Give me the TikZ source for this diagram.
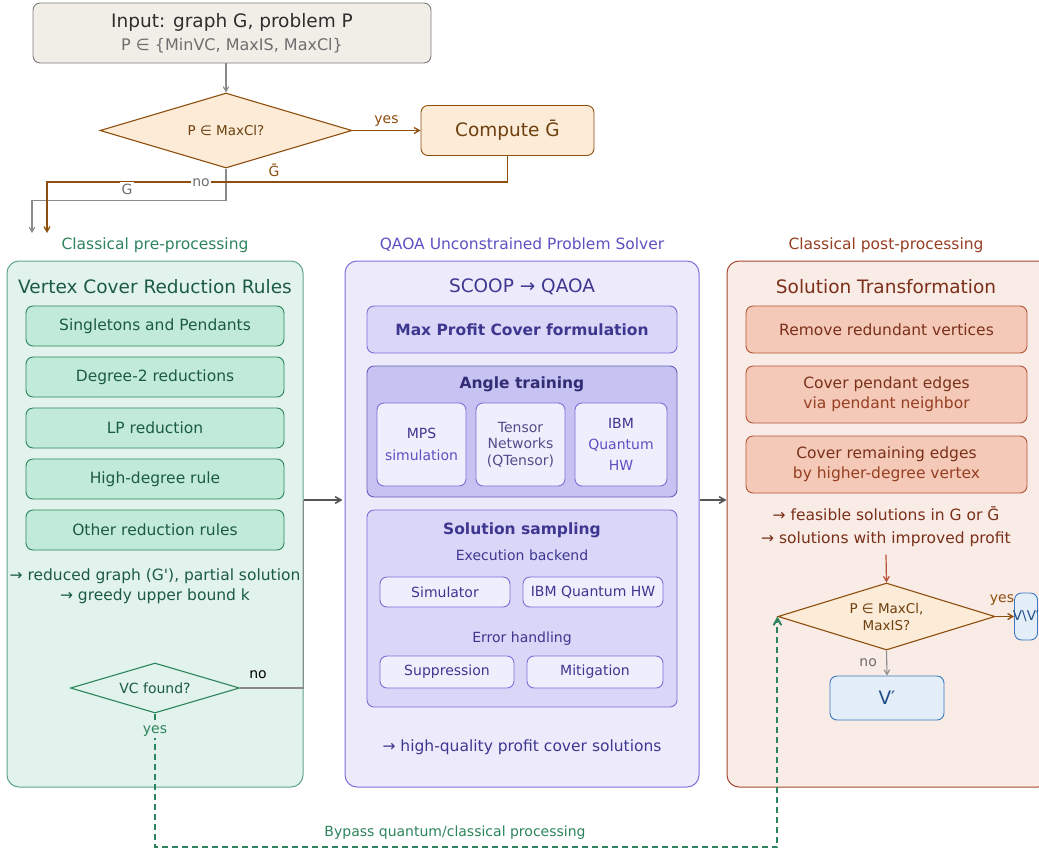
\documentclass[tikz,border=0pt]{standalone}
\usepackage{fontspec}
\setmainfont{DejaVu Sans}
\usepackage{tikz}
\usetikzlibrary{arrows,shapes.geometric}

\definecolor{inputfill}{HTML}{F1EEE8}
\definecolor{inputtitle}{HTML}{2E2E2E}
\definecolor{inputtext}{HTML}{6E6E6E}
\definecolor{linegrey}{HTML}{8A8A8A}
\definecolor{flowgrey}{HTML}{555555}
\definecolor{brownline}{HTML}{8E4E0E}
\definecolor{brownfill}{HTML}{FBEBD7}
\definecolor{browntext}{HTML}{6E400F}
\definecolor{greenpanel}{HTML}{E1F3EC}
\definecolor{greenedge}{HTML}{5FA587}
\definecolor{greenbox}{HTML}{C1EBD8}
\definecolor{greenline}{HTML}{2C845C}
\definecolor{greentext}{HTML}{1C5B43}
\definecolor{purppanel}{HTML}{EDEBFB}
\definecolor{purpedge}{HTML}{7A70D8}
\definecolor{purpbox}{HTML}{D9D6F8}
\definecolor{purpgroup}{HTML}{C6C2F2}
\definecolor{purpsub}{HTML}{EFEEFC}
\definecolor{purptext}{HTML}{3D3790}
\definecolor{purplight}{HTML}{5B51C2}
\definecolor{rustpanel}{HTML}{F9EBE6}
\definecolor{rustedge}{HTML}{A5492E}
\definecolor{rustbox}{HTML}{F4C9B8}
\definecolor{rustline}{HTML}{B45338}
\definecolor{rusttext}{HTML}{7A3019}
\definecolor{rustlight}{HTML}{963E22}
\definecolor{bluefill}{HTML}{E4EEF9}
\definecolor{blueedge}{HTML}{3B79BE}
\definecolor{bluetext}{HTML}{1E4D86}

\newcommand{\bigsz}{\fontsize{18.5}{22}\selectfont}
\newcommand{\midsz}{\fontsize{15.5}{20}\selectfont}
\newcommand{\smallsz}{\fontsize{14}{19}\selectfont}
\newcommand{\tinysz}{\fontsize{13.5}{17}\selectfont}

\begin{document}
\begin{tikzpicture}[x=1pt,y=-1pt,>=angle 60,
    box/.style={rectangle,rounded corners=7pt,draw,line width=0.9pt,
                align=center,inner sep=0pt},
    panel/.style={rectangle,rounded corners=12pt,draw,line width=1pt,
                  inner sep=0pt},
    decision/.style={diamond,draw,line width=1.1pt,inner sep=0pt,
                     align=center},
    greyarrow/.style={->,line width=1.1pt,draw=linegrey},
    brownarrow/.style={->,line width=1.3pt,draw=brownline},
    flow/.style={->,line width=1.6pt,draw=flowgrey},
    bypass/.style={->,line width=2pt,draw=greenline,
                   dash pattern=on 6pt off 4pt}]

\clip (0,0) rectangle (1039,852);

% input and the MaxCl test
\node[box,fill=inputfill,draw=linegrey!90!black,
      minimum width=398pt,minimum height=60pt] (input) at (232,33)
  {{\bigsz\color{inputtitle}Input: graph G, problem P}\\[6pt]
   {\fontsize{16}{20}\selectfont\color{inputtext}P ∈ \{MinVC, MaxIS, MaxCl\}}};
\node[decision,fill=brownfill,draw=brownline,text=browntext,font=\tinysz,
      aspect=3.36,minimum width=252pt,minimum height=75pt] (isclique) at (226,130.5)
  {P ∈ MaxCl?};
\node[box,fill=brownfill,draw=brownline,text=browntext,font=\bigsz,
      minimum width=173pt,minimum height=50pt] (compl) at (507.5,130.5)
  {Compute Ḡ};

\coordinate (gin) at (32,233);
\coordinate (gbarin) at (47,233);

\draw[greyarrow] (input.south -| isclique.north) -- (isclique.north);
\draw[brownarrow] (isclique.east) -- node[above,text=brownline,font=\smallsz]{yes}
  (compl.west);
\draw[greyarrow] (isclique.south) -- ++(0,32) -| (gin);
\draw[brownarrow] (compl.south) -- ++(0,26) -| (gbarin);
\node[fill=white,inner sep=1pt,text=brownline,font=\smallsz] (gbarlbl) at (274,170) {Ḡ};
\node[fill=white,inner sep=1.5pt,text=inputtext,font=\smallsz] (glbl) at (127,189) {G};
\node[fill=white,inner sep=1.5pt,text=inputtext,font=\smallsz] (nolbl) at (201,183) {no};

% section headings
\node[text=greenline,font=\midsz] (prehead) at (155,245) {Classical pre-processing};
\node[text=purplight,font=\midsz] (qaoahead) at (522,245) {QAOA Unconstrained Problem Solver};
\node[text=rustlight,font=\midsz] (posthead) at (886,245) {Classical post-processing};

% pre-processing panel
\node[panel,fill=greenpanel,draw=greenedge,minimum width=296pt,
      minimum height=526pt] (pre) at (155,524) {};
\node[text=greentext,font=\bigsz] (pretitle) at (155,287) {Vertex Cover Reduction Rules};
\node[box,fill=greenbox,draw=greenline,text=greentext,font=\midsz,
      minimum width=258pt,minimum height=40pt] (rule1) at (155,326) {Singletons and Pendants};
\node[box,fill=greenbox,draw=greenline,text=greentext,font=\midsz,
      minimum width=258pt,minimum height=40pt] (rule2) at (155,377) {Degree-2 reductions};
\node[box,fill=greenbox,draw=greenline,text=greentext,font=\midsz,
      minimum width=258pt,minimum height=40pt] (rule3) at (155,428) {LP reduction};
\node[box,fill=greenbox,draw=greenline,text=greentext,font=\midsz,
      minimum width=258pt,minimum height=40pt] (rule4) at (155,479) {High-degree rule};
\node[box,fill=greenbox,draw=greenline,text=greentext,font=\midsz,
      minimum width=258pt,minimum height=40pt] (rule5) at (155,530) {Other reduction rules};
\node[text=greentext,font=\midsz,align=center] (reduced) at (155,586)
  {→ reduced graph (G\textquotesingle), partial solution\\→ greedy upper bound k};
\node[decision,fill=greenpanel,draw=greenline,text=greentext,font=\smallsz,
      aspect=3.38,minimum width=169pt,minimum height=50pt] (vcfound) at (155,688) {VC found?};

% QAOA panel
\node[panel,fill=purppanel,draw=purpedge,minimum width=354pt,
      minimum height=526pt] (solver) at (522,524) {};
\node[text=purptext,font=\bigsz] (solvertitle) at (522,287) {SCOOP → QAOA};
\node[box,fill=purpbox,draw=purpedge,text=purptext,font=\midsz\bfseries,
      minimum width=310pt,minimum height=47pt] (mpc) at (522,329.5)
  {Max Profit Cover formulation};
\node[box,fill=purpgroup,draw=purpedge!85!black,minimum width=310pt,
      minimum height=131pt] (angle) at (522,431.5) {};
\node[text=purptext!80!black,font=\midsz\bfseries] (angletitle) at (522,384) {Angle training};
\node[box,fill=purpsub,draw=purpedge,font=\smallsz,
      minimum width=89pt,minimum height=83pt] (mps) at (421.5,444.5)
  {{\color{purptext}MPS}\\[3pt]{\color{purplight}simulation}};
\node[box,fill=purpsub,draw=purpedge,font=\smallsz,text=purptext!70!gray,
      minimum width=89pt,minimum height=83pt,execute at begin node=\setlength{\baselineskip}{16.5pt}]
  (tensor) at (520.5,444.5) {Tensor\\Networks\\(QTensor)};
\node[box,fill=purpsub,draw=purpedge,font=\smallsz,
      minimum width=92pt,minimum height=83pt] (ibmtrain) at (621,444.5)
  {{\color{purptext}IBM}\\[2pt]{\color{purplight}Quantum}\\[2pt]{\color{purplight}HW}};
\node[box,fill=purpbox,draw=purpedge,minimum width=310pt,
      minimum height=197pt] (sampling) at (522,608.5) {};
\node[text=purptext,font=\midsz\bfseries] (samptitle) at (522,530) {Solution sampling};
\node[text=purptext,font=\smallsz] (backend) at (522,555) {Execution backend};
\node[box,fill=purpsub,draw=purpedge,text=purptext,font=\smallsz,
      minimum width=130pt,minimum height=30pt] (simul) at (445,592) {Simulator};
\node[box,fill=purpsub,draw=purpedge,text=purptext,font=\smallsz,
      minimum width=140pt,minimum height=30pt] (ibmhw) at (593,592) {IBM Quantum HW};
\node[text=purptext,font=\smallsz] (errh) at (522,639) {Error handling};
\node[box,fill=purpsub,draw=purpedge,text=purptext,font=\smallsz,
      minimum width=134pt,minimum height=32pt] (supp) at (447,672) {Suppression};
\node[box,fill=purpsub,draw=purpedge,text=purptext,font=\smallsz,
      minimum width=136pt,minimum height=32pt] (mitig) at (595,672) {Mitigation};
\node[text=purptext,font=\midsz] (hq) at (522,747) {→ high-quality profit cover solutions};

% post-processing panel
\node[panel,fill=rustpanel,draw=rustedge,minimum width=323pt,
      minimum height=526pt] (post) at (888.5,524) {};
\node[text=rusttext,font=\bigsz] (posttitle) at (886,287) {Solution Transformation};
\node[box,fill=rustbox,draw=rustline,text=rusttext,font=\midsz,
      minimum width=281pt,minimum height=47pt] (redund) at (886.5,329.5)
  {Remove redundant vertices};
\node[box,fill=rustbox,draw=rustline,font=\midsz,
      minimum width=281pt,minimum height=57pt] (pendant) at (886.5,394.5)
  {{\color{rusttext}Cover pendant edges}\\{\color{rustlight}via pendant neighbor}};
\node[box,fill=rustbox,draw=rustline,font=\midsz,
      minimum width=281pt,minimum height=57pt] (remain) at (886.5,464.5)
  {{\color{rusttext}Cover remaining edges}\\{\color{rustlight}by higher-degree vertex}};
\node[text=rusttext,font=\midsz,align=center,
      execute at begin node=\setlength{\baselineskip}{23pt}] (feasible) at (886,527)
  {→ feasible solutions in G or Ḡ\\→ solutions with improved profit};
\node[decision,fill=brownfill,draw=brownline,text=browntext,font=\tinysz,
      aspect=3.24,minimum width=217pt,minimum height=67pt] (ismax) at (886.5,616.5)
  {P ∈ MaxCl,\\MaxIS?};
\node[box,fill=bluefill,draw=blueedge,text=bluetext,font=\tinysz,
      minimum width=23pt,minimum height=47pt] (compset) at (1026,616.5)
  {\makebox[0pt]{V\textbackslash V′}};
\node[box,fill=bluefill,draw=blueedge,text=bluetext,font=\bigsz,
      minimum width=114pt,minimum height=44pt] (cover) at (887,698) {V′};

% flow between the panels
\draw[flow] ([yshift=24pt]pre.east) -- ([yshift=24pt,xshift=-2pt]solver.west);
\draw[flow] ([yshift=24pt]solver.east) -- ([yshift=24pt]post.west);
\draw[line width=1.6pt,draw=linegrey] (vcfound.east) -| ([yshift=24pt]pre.east);
\node[font=\smallsz] (vcno) at (258,675) {no};
\draw[->,line width=1.2pt,draw=rustline] ([yshift=-4pt]feasible.south) -- (ismax.north);
\draw[brownarrow] (ismax.east) -- (compset.west);
\node[text=brownline,font=\smallsz] (yeslbl) at (1002,600) {yes};
\draw[greyarrow] (ismax.south) -- node[left=6pt,text=inputtext,font=\smallsz]{no} (cover.north);

% bypass
\coordinate (bend) at (155,847);
\draw[bypass] (vcfound.south) -- (bend) -| (ismax.west);
\node[fill=greenpanel,inner sep=2pt,text=greenline,font=\smallsz] (vcyes) at (155,731) {yes};
\node[text=greenline,font=\smallsz] (bypasslbl) at (455,833)
  {Bypass quantum/classical processing};
\end{tikzpicture}
\end{document}
